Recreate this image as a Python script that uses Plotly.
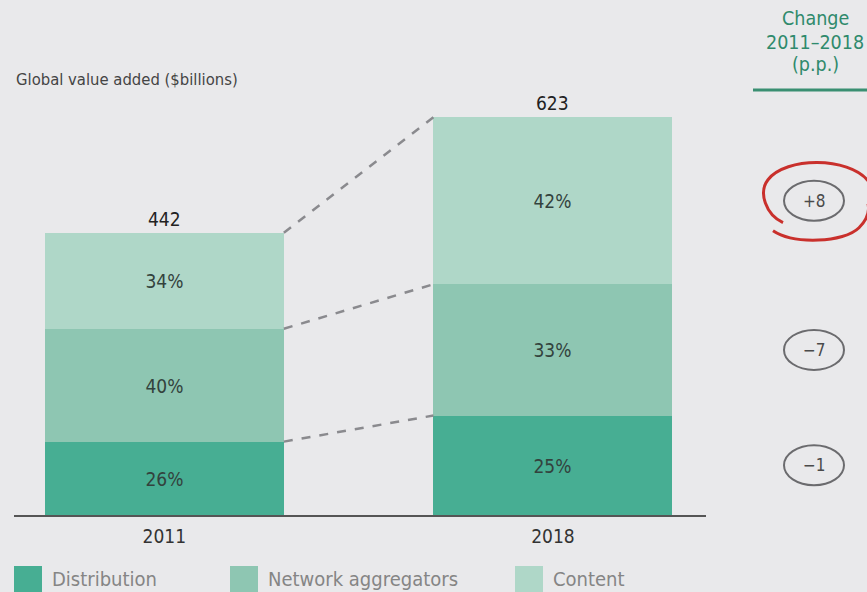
import plotly.graph_objects as go

# Global value added by segment ($billions) and percentage split per year
years = ["2011", "2018"]
totals = [442, 623]
segments = ["Distribution", "Network aggregators", "Content"]
shares = {
    "Distribution": [26, 25],
    "Network aggregators": [40, 33],
    "Content": [34, 42],
}
colors = {
    "Distribution": "#47ae93",
    "Network aggregators": "#8ec6b2",
    "Content": "#afd7c8",
}

FONT = "DejaVu Sans Condensed, Liberation Sans Narrow, sans-serif"
BG = "#e9e9eb"
W, H = 867, 592
ML, MR, MT, MB = 14, 161, 68, 77
PW, PH = W - ML - MR, H - MT - MB
BAR_W = 0.615
xpos = [0, 1]


def px_x(px):
    return (px - ML) / PW


def px_y(py):
    return (H - MB - py) / PH


fig = go.Figure()

# stacked segments, sized as share of the year's total
for seg in segments:
    vals = [t * s / 100 for t, s in zip(totals, shares[seg])]
    fig.add_trace(go.Bar(
        x=xpos, y=vals, width=BAR_W, name=seg,
        marker=dict(color=colors[seg], line=dict(width=0)),
        text=[f"{s}%" for s in shares[seg]],
        textposition="inside", insidetextanchor="middle", textangle=0,
        textfont=dict(family=FONT, size=19, color="#33423d"),
        hoverinfo="skip", showlegend=False,
    ))

# dashed connectors between matching segment tops
cum = [0.0, 0.0]
for seg in segments:
    cum = [c + t * s / 100 for c, t, s in zip(cum, totals, shares[seg])]
    fig.add_trace(go.Scatter(
        x=[xpos[0] + BAR_W / 2, xpos[1] - BAR_W / 2], y=cum,
        mode="lines", line=dict(color="#8a8a8e", width=2.5, dash="dash"),
        hoverinfo="skip", showlegend=False,
    ))

annotations = []
shapes = []

# totals above bars
for x, t in zip(xpos, totals):
    annotations.append(dict(
        x=x, y=t, xref="x", yref="y", text=str(t), showarrow=False,
        xanchor="center", yanchor="bottom", yshift=1,
        font=dict(family=FONT, size=19, color="#222222"),
    ))

# chart subtitle
annotations.append(dict(
    x=px_x(14), y=px_y(80), xref="paper", yref="paper",
    text="Global value added ($billions)", showarrow=False,
    xanchor="left", yanchor="middle",
    font=dict(family=FONT, size=16.5, color="#444444"),
))

# change column header
for txt, py in [("Change", 19), ("2011–2018", 42), ("(p.p.)", 65)]:
    annotations.append(dict(
        x=px_x(815), y=px_y(py), xref="paper", yref="paper", text=txt,
        showarrow=False, xanchor="center", yanchor="middle",
        font=dict(family=FONT, size=19.5, color="#2f8a6c"),
    ))
shapes.append(dict(
    type="line", xref="paper", yref="paper",
    x0=px_x(753), x1=px_x(868), y0=px_y(90), y1=px_y(90),
    line=dict(color="#3a8f72", width=3),
))

# change in share (p.p.), placed beside the 2018 segments
cx = px_x(814)
base = 0.0
for seg in segments:
    v18 = totals[1] * shares[seg][1] / 100
    mid = base + v18 / 2
    base += v18
    change = shares[seg][1] - shares[seg][0]
    label = f"+{change}" if change > 0 else f"\u2212{abs(change)}"
    shapes.append(dict(
        type="circle", xref="paper", yref="y",
        xsizemode="pixel", ysizemode="pixel", xanchor=cx, yanchor=mid,
        x0=-30, x1=30, y0=-20, y1=20,
        line=dict(color="#6b6b6e", width=2),
    ))
    annotations.append(dict(
        x=cx, y=mid, xref="paper", yref="y", text=label, showarrow=False,
        xanchor="center", yanchor="middle",
        font=dict(family=FONT, size=17, color="#4a4a4a"),
    ))
    if seg == "Content":
        # red hand-drawn highlight loop
        shapes.append(dict(
            type="path", xref="paper", yref="y",
            xsizemode="pixel", ysizemode="pixel", xanchor=cx, yanchor=mid,
            path=("M 54,20 C 34,44 -28,44 -46,21 C -56,8 -48,-14 -31,-22 "
                  "M -41,-30 C -20,-44 30,-42 45,-27 C 52,-20 56,-12 54,-3"),
            line=dict(color="#c9302c", width=3),
        ))

# legend keys
legend_px = [(14, 50), (230, 266), (515, 551)]
for seg, (sx, tx) in zip(segments, legend_px):
    shapes.append(dict(
        type="rect", xref="paper", yref="paper",
        x0=px_x(sx), x1=px_x(sx + 28), y0=px_y(566), y1=px_y(596),
        fillcolor=colors[seg], line=dict(width=0), layer="above",
    ))
    annotations.append(dict(
        x=px_x(tx), y=px_y(579), xref="paper", yref="paper", text=seg,
        showarrow=False, xanchor="left", yanchor="middle",
        font=dict(family=FONT, size=20, color="#858585"),
    ))

fig.update_layout(
    width=W, height=H,
    margin=dict(l=ML, r=MR, t=MT, b=MB, pad=0),
    paper_bgcolor=BG, plot_bgcolor=BG,
    barmode="stack", bargap=0,
    showlegend=False,
    xaxis=dict(
        range=[-0.387, 1.394], tickvals=xpos, ticktext=years,
        showgrid=False, zeroline=False, showline=True,
        linecolor="#555555", linewidth=2, ticks="",
        ticklabelstandoff=3,
        tickfont=dict(family=FONT, size=19, color="#333333"),
        fixedrange=True,
    ),
    yaxis=dict(
        range=[0, 700], visible=False, showgrid=False, zeroline=False,
        fixedrange=True,
    ),
    annotations=annotations,
    shapes=shapes,
)

fig.write_html("out.html")
